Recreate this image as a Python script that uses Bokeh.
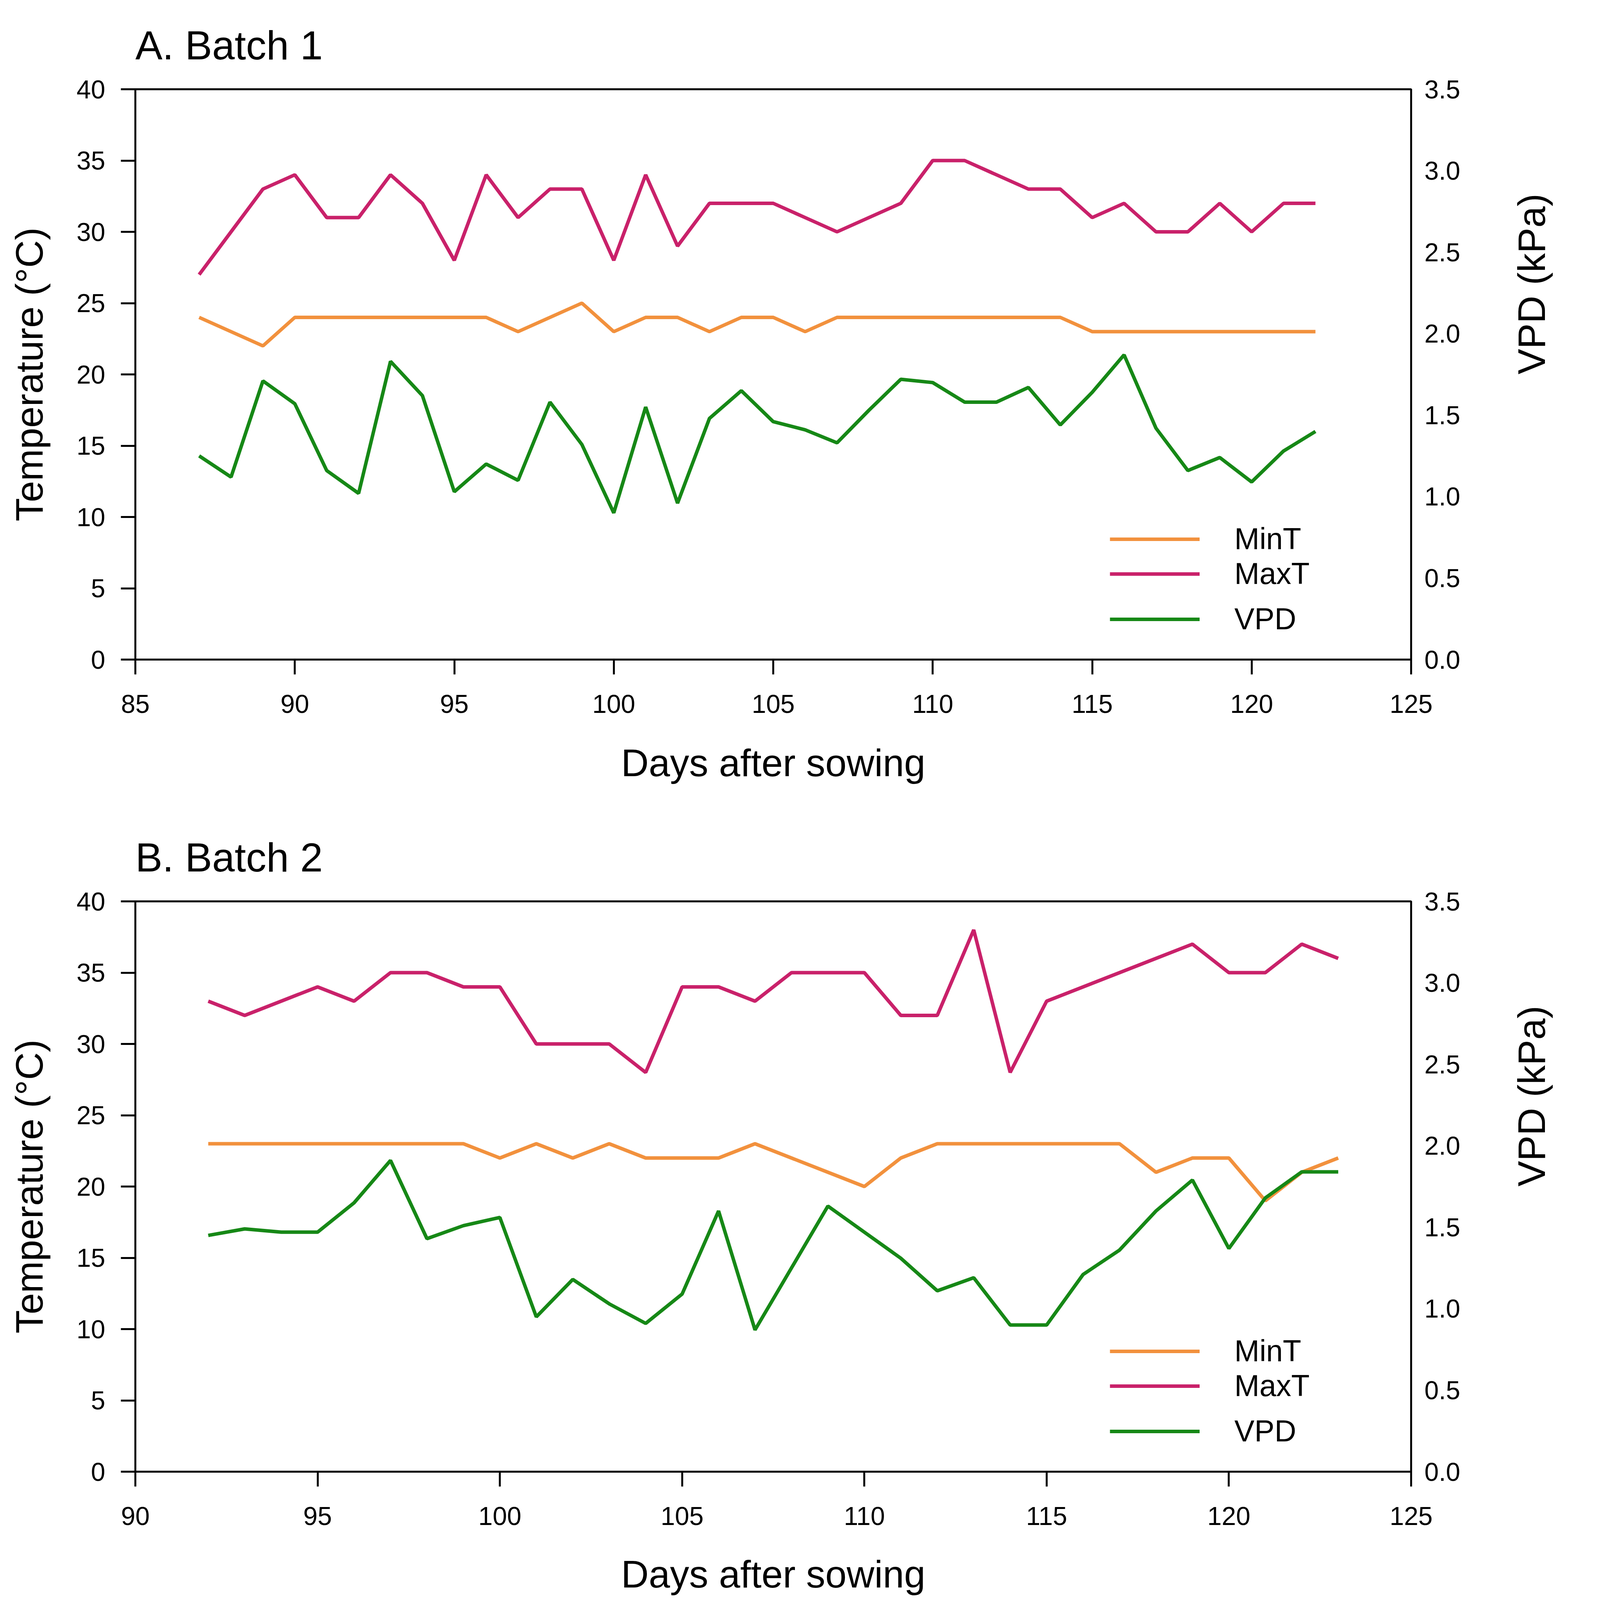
import math
from bokeh.plotting import figure
from bokeh.models import (Range1d, LinearAxis, FixedTicker, PrintfTickFormatter,
                          Legend, LegendItem, ColumnDataSource)
from bokeh.layouts import column
from bokeh.embed import file_html
from bokeh.resources import INLINE

# ---------------- data ----------------
days_a = list(range(87, 123))
mint_a = [24, 23, 22, 24, 24, 24, 24, 24, 24, 24,
          23, 24, 25, 23, 24, 24, 23, 24, 24, 23,
          24, 24, 24, 24, 24, 24, 24, 24, 23, 23,
          23, 23, 23, 23, 23, 23]
maxt_a = [27, 30, 33, 34, 31, 31, 34, 32, 28, 34,
          31, 33, 33, 28, 34, 29, 32, 32, 32, 31,
          30, 31, 32, 35, 35, 34, 33, 33, 31, 32,
          30, 30, 32, 30, 32, 32]
vpd_a = [1.25, 1.12, 1.71, 1.57, 1.16, 1.02, 1.83, 1.62, 1.03, 1.20,
         1.10, 1.58, 1.32, 0.90, 1.55, 0.96, 1.48, 1.65, 1.46, 1.41,
         1.33, 1.53, 1.72, 1.70, 1.58, 1.58, 1.67, 1.44, 1.64, 1.87,
         1.42, 1.16, 1.24, 1.09, 1.28, 1.40]

days_b = list(range(92, 124))
mint_b = [23, 23, 23, 23, 23, 23, 23, 23, 22, 23,
          22, 23, 22, 22, 22, 23, 22, 21, 20, 22,
          23, 23, 23, 23, 23, 23, 21, 22, 22, 19,
          21, 22]
maxt_b = [33, 32, 33, 34, 33, 35, 35, 34, 34, 30,
          30, 30, 28, 34, 34, 33, 35, 35, 35, 32,
          32, 38, 28, 33, 34, 35, 36, 37, 35, 35,
          37, 36]
vpd_b = [1.45, 1.49, 1.47, 1.47, 1.65, 1.91, 1.43, 1.51, 1.56, 0.95,
         1.18, 1.03, 0.91, 1.09, 1.60, 0.87, 1.25, 1.63, 1.47, 1.31,
         1.11, 1.19, 0.90, 0.90, 1.21, 1.36, 1.60, 1.79, 1.37, 1.68,
         1.84, 1.84]

temp_ticks = [0, 5, 10, 15, 20, 25, 30, 35, 40]
vpd_ticks = [0.0, 0.5, 1.0, 1.5, 2.0, 2.5, 3.0, 3.5]
x_ticks_a = [85, 90, 95, 100, 105, 110, 115, 120, 125]
x_ticks_b = [90, 95, 100, 105, 110, 115, 120, 125]

series_labels = ["MinT", "MaxT", "VPD"]
titles = ["A. Batch 1", "B. Batch 2"]

# ---------------- style ----------------
FONT = "Liberation Sans"
ORANGE = "#F2913D"
MAGENTA = "#C9216A"
GREEN = "#168816"
LW = 9
FRAME_W = 3266
FRAME_H = 1460


def style_axis(ax, tick_out, standoff, label_standoff):
    ax.major_tick_out = tick_out
    ax.major_tick_in = 0
    ax.minor_tick_out = 0
    ax.minor_tick_in = 0
    ax.major_tick_line_width = 5
    ax.major_tick_line_color = "black"
    ax.axis_line_width = 5
    ax.axis_line_color = "black"
    ax.major_label_text_font = FONT
    ax.major_label_text_font_size = "66px"
    ax.major_label_text_color = "black"
    ax.major_label_standoff = standoff
    ax.axis_label_text_font = FONT
    ax.axis_label_text_font_size = "98px"
    ax.axis_label_text_font_style = "normal"
    ax.axis_label_text_color = "black"
    ax.axis_label_standoff = label_standoff


def set_title(p, title):
    t = p.title
    t.text = title
    t.text_font = FONT
    t.text_font_size = "104px"
    t.text_font_style = "normal"
    t.text_color = "black"
    t.align = "left"
    t.offset = 0
    t.standoff = 110


def make_panel(title, days, mint, maxt, vpd, x_ticks, top_border, bottom_border,
               xlab_standoff):
    src = ColumnDataSource(dict(day=days, mint=mint, maxt=maxt, vpd=vpd))
    p = figure(frame_width=FRAME_W, frame_height=FRAME_H,
               x_range=Range1d(x_ticks[0], x_ticks[-1]),
               y_range=Range1d(temp_ticks[0], temp_ticks[-1]),
               output_backend="svg", toolbar_location=None,
               min_border_left=346, min_border_right=382,
               min_border_top=top_border, min_border_bottom=bottom_border)
    p.extra_y_ranges = {"vpd": Range1d(vpd_ticks[0], vpd_ticks[-1])}
    p.grid.visible = False
    p.outline_line_color = "black"
    p.outline_line_width = 5
    p.background_fill_color = "white"
    p.border_fill_color = "white"

    # bottom axis (days)
    xax = p.below[0]
    xax.ticker = FixedTicker(ticks=x_ticks)
    xax.axis_label = "Days after sowing"
    style_axis(xax, 38, 52, xlab_standoff)

    # left axis (temperature)
    yax = p.left[0]
    yax.ticker = FixedTicker(ticks=temp_ticks)
    yax.axis_label = "Temperature (°C)"
    style_axis(yax, 37, 40, 63)

    # right axis (VPD)
    rax = LinearAxis(y_range_name="vpd", ticker=FixedTicker(ticks=vpd_ticks),
                     formatter=PrintfTickFormatter(format="%.1f"),
                     axis_label="VPD (kPa)")
    style_axis(rax, 0, 34, 180)
    rax.axis_line_color = None
    rax.axis_label_orientation = math.pi / 2
    p.add_layout(rax, "right")

    set_title(p, title)

    r_min = p.line("day", "mint", source=src, line_color=ORANGE, line_width=LW)
    r_max = p.line("day", "maxt", source=src, line_color=MAGENTA, line_width=LW)
    r_vpd = p.line("day", "vpd", source=src, line_color=GREEN, line_width=LW,
                   y_range_name="vpd")

    def legend(items, loc):
        lg = Legend(items=items, location=loc, orientation="vertical",
                    padding=0, margin=0, spacing=0,
                    border_line_color=None, background_fill_alpha=0,
                    glyph_width=230, glyph_height=86, label_height=86,
                    label_standoff=89,
                    label_text_font=FONT, label_text_font_size="77px",
                    label_text_color="black")
        p.add_layout(lg)

    legend([LegendItem(label=series_labels[0], renderers=[r_min]),
            LegendItem(label=series_labels[1], renderers=[r_max])], (2495, 175))
    legend([LegendItem(label=series_labels[2], renderers=[r_vpd])], (2495, 59))
    return p


p1 = make_panel(titles[0], days_a, mint_a, maxt_a, vpd_a, x_ticks_a, 227, 335, 70)
p2 = make_panel(titles[1], days_b, mint_b, maxt_b, vpd_b, x_ticks_b, 284, 300, 68)

layout = column(p1, p2, spacing=0)
open("out.html", "w").write(file_html(layout, INLINE))
